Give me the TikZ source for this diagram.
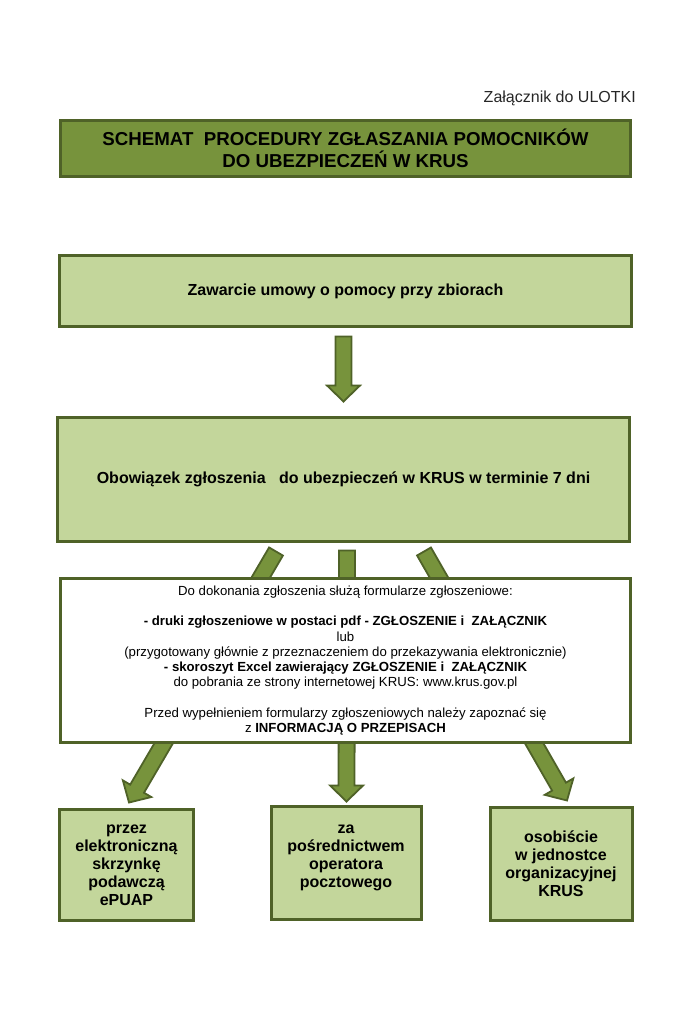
\documentclass[tikz,border=0pt]{standalone}
\usepackage{fontspec}
\setmainfont{Liberation Sans}
\usetikzlibrary{calc}

\definecolor{krusdark}{HTML}{4F6228}
\definecolor{krusolive}{HTML}{77933C}
\definecolor{kruslight}{HTML}{C3D69B}

\tikzstyle{titlebox}=[draw=krusdark,fill=krusolive,line width=3pt,inner sep=0pt,align=center,font=\fontsize{18.7}{22}\selectfont\bfseries]
\tikzstyle{stepbox}=[draw=krusdark,fill=kruslight,line width=3pt,inner sep=0pt,align=center,font=\fontsize{16}{18}\selectfont\bfseries]
\tikzstyle{infobox}=[draw=krusdark,fill=white,line width=3pt,inner sep=0pt,align=center,font=\fontsize{13.2}{15.3}\selectfont]
\tikzstyle{fatarrow}=[draw=krusdark,fill=krusolive,line width=1.8pt,line join=miter]
\newcommand{\fatarrow}[2]{%
  \coordinate (head) at ($(#2)!16pt!(#1)$);
  \path[fatarrow] ($(#1)!8pt!90:(#2)$) -- ($(head)!8pt!-90:(#1)$) -- ($(head)!16.5pt!-90:(#1)$)
    -- (#2) -- ($(head)!16.5pt!90:(#1)$) -- ($(head)!8pt!90:(#1)$) -- ($(#1)!8pt!-90:(#2)$) -- cycle;}

\begin{document}
\begin{tikzpicture}[x=1pt, y=-1pt]
    \useasboundingbox (0,0) rectangle (696,1010);
    % heading
    \node[anchor=east, inner sep=0pt, font=\fontsize{16}{18}\selectfont, text=black!85] (ulotka) at (636,98) {Załącznik do ULOTKI};
    \node[titlebox, minimum width=570pt, minimum height=56pt] (title) at (345.5,148.5)
        {SCHEMAT\ \ PROCEDURY ZGŁASZANIA POMOCNIKÓW\\DO UBEZPIECZEŃ W KRUS};
    % the steps
    \node[stepbox, minimum width=572pt, minimum height=71pt] (umowa) at (345.5,291)
        {Zawarcie umowy o pomocy przy zbiorach};
    \node[stepbox, minimum width=572pt, minimum height=124pt] (zgloszenie) at (343.5,479.5)
        {Obowiązek zgłoszenia\ \ \ do ubezpieczeń w KRUS w terminie 7 dni};
    % the three ways
    \node[stepbox, minimum width=134pt, minimum height=111pt] (epuap) at (126.5,865)
        {przez\\elektroniczną\\skrzynkę\\podawczą\\ePUAP};
    \node[stepbox, minimum width=150pt, minimum height=113pt] (poczta) at (346,863)
        {za\\pośrednictwem\\operatora\\pocztowego\\[-4pt]\mbox{}};
    \node[stepbox, minimum width=142pt, minimum height=113pt] (osobiscie) at (561,863.5)
        {osobiście\\w jednostce\\organizacyjnej\\KRUS};
    % arrow ends
    \coordinate (umowaOut) at ($(umowa.south)+(-2,8.5)$);
    \coordinate (zglIn) at ($(zgloszenie.north)+(0,-14.5)$);
    \coordinate (zglLeft) at ($(zgloszenie.south)+(-67.5,8.5)$);
    \coordinate (zglMid) at ($(zgloszenie.south)+(3.5,7.5)$);
    \coordinate (zglRight) at ($(zgloszenie.south)+(80.5,8.5)$);
    \coordinate (epuapIn) at ($(epuap.north)+(2.5,-5.5)$);
    \coordinate (pocztaIn) at ($(poczta.north)+(0.5,-3.5)$);
    \coordinate (osobIn) at ($(osobiscie.north)+(6,-5)$);
    \foreach \source/\dest in {umowaOut/zglIn, zglLeft/epuapIn, zglMid/pocztaIn, zglRight/osobIn}
        \fatarrow{\source}{\dest};
    % the forms, laid over the arrows
    \node[infobox, minimum width=570pt, minimum height=164pt] (formularze) at (345.5,660.5)
        {Do dokonania zgłoszenia służą formularze zgłoszeniowe:\\[15.3pt]
         \textbf{- druki zgłoszeniowe w postaci pdf - ZGŁOSZENIE i\ \ ZAŁĄCZNIK}\\
         lub\\
         (przygotowany głównie z przeznaczeniem do przekazywania elektronicznie)\\
         \textbf{- skoroszyt Excel zawierający ZGŁOSZENIE i\ \ ZAŁĄCZNIK}\\
         do pobrania ze strony internetowej KRUS: www.krus.gov.pl\\[15.3pt]
         Przed wypełnieniem formularzy zgłoszeniowych należy zapoznać się\\
         z \textbf{INFORMACJĄ O PRZEPISACH}};
\end{tikzpicture}
\end{document}
